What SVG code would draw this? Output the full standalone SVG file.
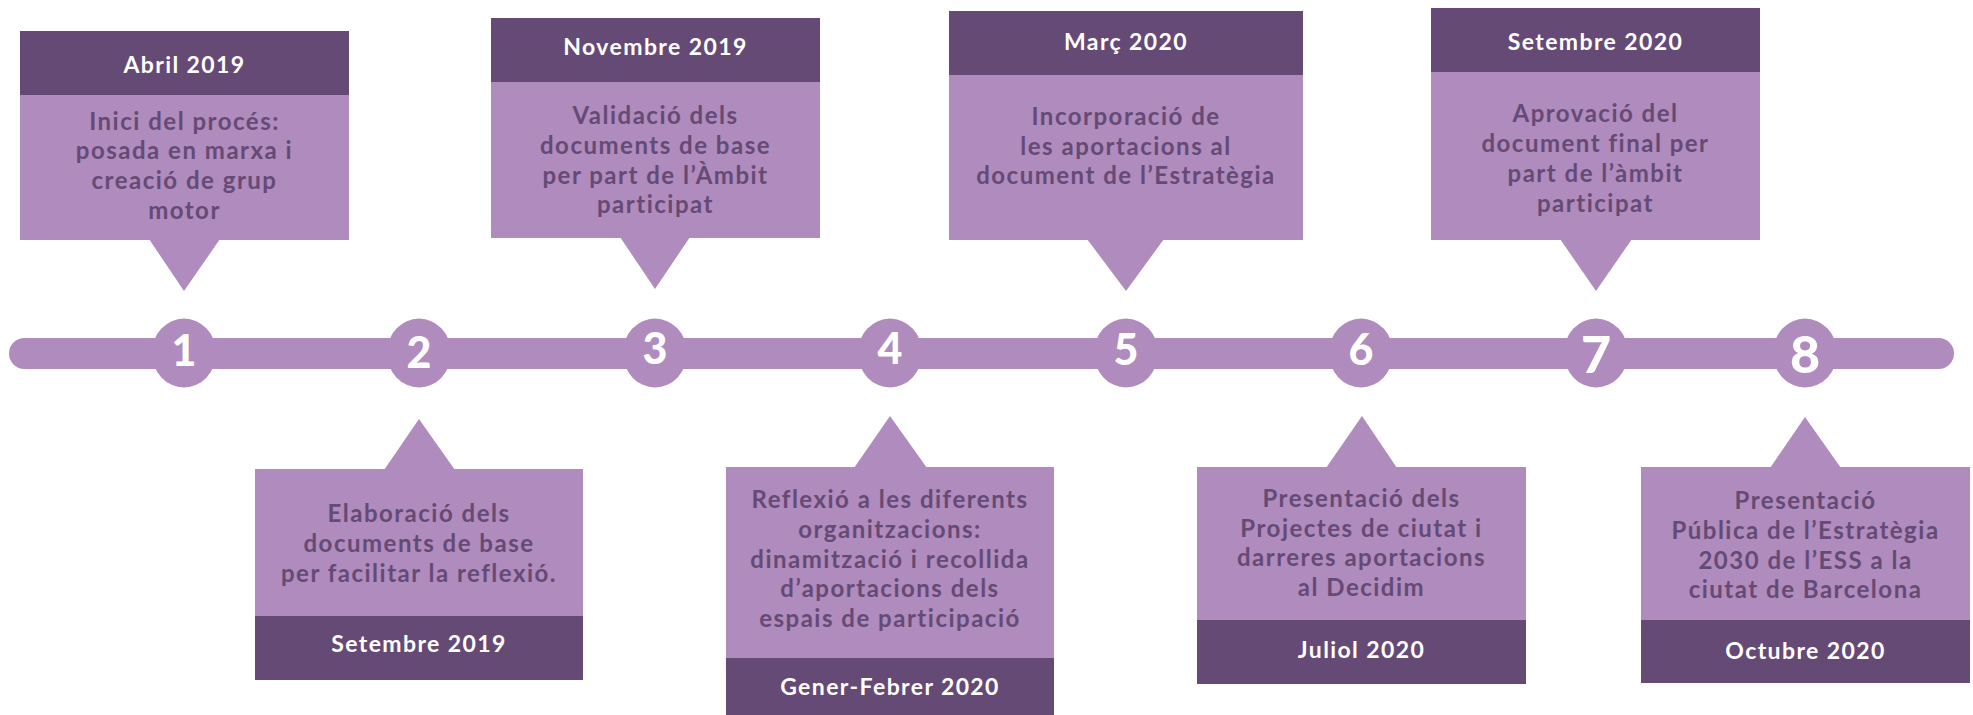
<svg xmlns="http://www.w3.org/2000/svg" width="1973" height="715" viewBox="0 0 1973 715">
<style>
.light{fill:#B08BBD}
.dark{fill:#654A75}
.hd{font-family:Lato,"Liberation Sans",sans-serif;font-weight:700;font-size:23px;letter-spacing:1.4px;fill:#FFFFFF;text-anchor:middle}
.bd{font-family:Lato,"Liberation Sans",sans-serif;font-weight:700;font-size:24px;letter-spacing:1.5px;fill:#654A75;text-anchor:middle}
.num{font-family:Lato,"Liberation Sans",sans-serif;font-weight:900;font-size:43px;fill:#FFFFFF;text-anchor:middle}
.numL{font-family:Lato,"Liberation Sans",sans-serif;font-weight:900;font-size:52px;fill:#FFFFFF;text-anchor:middle}
</style>
<rect width="1973" height="715" fill="#FFFFFF"/>
<g id="connectors">
<rect class="light" x="9" y="338" width="1945" height="31" rx="15.5" ry="15.5"/>
</g>
<g id="markers">
<g id="m1"><ellipse class="light" cx="184" cy="353" rx="32" ry="34.5"/><text class="num" x="184" y="366">1</text></g>
<g id="m2"><ellipse class="light" cx="419" cy="353" rx="32" ry="34.5"/><text class="num" x="419" y="368">2</text></g>
<g id="m3"><ellipse class="light" cx="655" cy="353" rx="32" ry="34.5"/><text class="num" x="655" y="364">3</text></g>
<g id="m4"><ellipse class="light" cx="890" cy="353" rx="32" ry="34.5"/><text class="num" x="890" y="364">4</text></g>
<g id="m5"><ellipse class="light" cx="1126" cy="353" rx="32" ry="34.5"/><text class="num" x="1126" y="365">5</text></g>
<g id="m6"><ellipse class="light" cx="1361" cy="353" rx="32" ry="34.5"/><text class="num" x="1361" y="365">6</text></g>
<g id="m7"><ellipse class="light" cx="1596" cy="353" rx="32" ry="34.5"/><text class="numL" x="1596" y="373">7</text></g>
<g id="m8"><ellipse class="light" cx="1805" cy="353" rx="32" ry="34.5"/><text class="numL" x="1805" y="373">8</text></g>
</g>
<g id="node1">
<rect class="dark" x="20" y="31" width="329" height="64"/>
<rect class="light" x="20" y="95" width="329" height="145"/>
<polygon class="light" points="149,239 220,239 184,291"/>
<text class="hd" x="184.5" y="73">Abril 2019</text>
<text class="bd" x="184.5" y="130">Inici del procés:</text>
<text class="bd" x="184.5" y="159">posada en marxa i</text>
<text class="bd" x="184.5" y="189">creació de grup</text>
<text class="bd" x="184.5" y="219">motor</text>
</g>
<g id="node2">
<polygon class="light" points="384,470 455,470 419,419"/>
<rect class="light" x="255" y="469" width="328" height="147"/>
<rect class="dark" x="255" y="616" width="328" height="64"/>
<text class="bd" x="419" y="522">Elaboració dels</text>
<text class="bd" x="419" y="552">documents de base</text>
<text class="bd" x="419" y="582">per facilitar la reflexió.</text>
<text class="hd" x="419" y="652">Setembre 2019</text>
</g>
<g id="node3">
<rect class="dark" x="491" y="18" width="329" height="64"/>
<rect class="light" x="491" y="82" width="329" height="156"/>
<polygon class="light" points="620,237 690,237 655,289"/>
<text class="hd" x="655.5" y="55">Novembre 2019</text>
<text class="bd" x="655.5" y="124">Validació dels</text>
<text class="bd" x="655.5" y="154">documents de base</text>
<text class="bd" x="655.5" y="184">per part de l’Àmbit</text>
<text class="bd" x="655.5" y="213">participat</text>
</g>
<g id="node4">
<polygon class="light" points="854,468 927,468 890,416"/>
<rect class="light" x="726" y="467" width="328" height="191"/>
<rect class="dark" x="726" y="658" width="328" height="57"/>
<text class="bd" x="890" y="508">Reflexió a les diferents</text>
<text class="bd" x="890" y="538">organitzacions:</text>
<text class="bd" x="890" y="568">dinamització i recollida</text>
<text class="bd" x="890" y="597">d’aportacions dels</text>
<text class="bd" x="890" y="627">espais de participació</text>
<text class="hd" x="890" y="695">Gener-Febrer 2020</text>
</g>
<g id="node5">
<rect class="dark" x="949" y="11" width="354" height="64"/>
<rect class="light" x="949" y="75" width="354" height="165"/>
<polygon class="light" points="1087,239 1164,239 1126,291"/>
<text class="hd" x="1126" y="50">Març 2020</text>
<text class="bd" x="1126" y="125">Incorporació de</text>
<text class="bd" x="1126" y="155">les aportacions al</text>
<text class="bd" x="1126" y="184">document de l’Estratègia</text>
</g>
<g id="node6">
<polygon class="light" points="1326,468 1397,468 1362,416"/>
<rect class="light" x="1197" y="467" width="329" height="153"/>
<rect class="dark" x="1197" y="620" width="329" height="64"/>
<text class="bd" x="1361.5" y="507">Presentació dels</text>
<text class="bd" x="1361.5" y="537">Projectes de ciutat i</text>
<text class="bd" x="1361.5" y="566">darreres aportacions</text>
<text class="bd" x="1361.5" y="596">al Decidim</text>
<text class="hd" x="1361.5" y="658">Juliol 2020</text>
</g>
<g id="node7">
<rect class="dark" x="1431" y="8" width="329" height="64"/>
<rect class="light" x="1431" y="72" width="329" height="168"/>
<polygon class="light" points="1560,239 1632,239 1596,291"/>
<text class="hd" x="1595.5" y="50">Setembre 2020</text>
<text class="bd" x="1595.5" y="122">Aprovació del</text>
<text class="bd" x="1595.5" y="152">document final per</text>
<text class="bd" x="1595.5" y="182">part de l’àmbit</text>
<text class="bd" x="1595.5" y="212">participat</text>
</g>
<g id="node8">
<polygon class="light" points="1770,468 1841,468 1805,417"/>
<rect class="light" x="1641" y="467" width="329" height="153"/>
<rect class="dark" x="1641" y="620" width="329" height="63"/>
<text class="bd" x="1805.5" y="509">Presentació</text>
<text class="bd" x="1805.5" y="539">Pública de l’Estratègia</text>
<text class="bd" x="1805.5" y="569">2030 de l’ESS a la</text>
<text class="bd" x="1805.5" y="598">ciutat de Barcelona</text>
<text class="hd" x="1805.5" y="659">Octubre 2020</text>
</g>
</svg>
